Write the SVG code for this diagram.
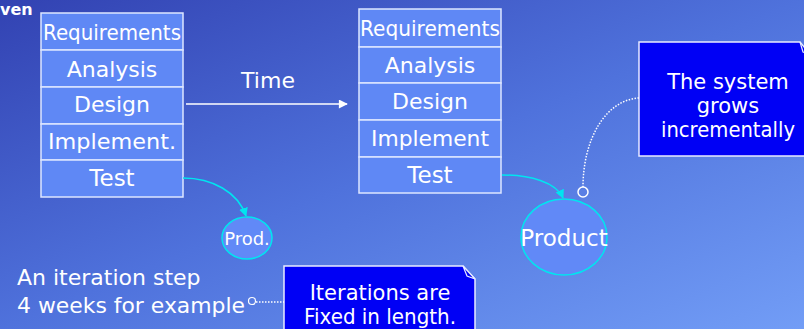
<svg xmlns="http://www.w3.org/2000/svg" width="804" height="329" viewBox="0 0 804 329">
<defs>
<linearGradient id="bg" x1="0" y1="0" x2="1" y2="1">
<stop offset="0" stop-color="#3242b2"/>
<stop offset="0.5" stop-color="#4f72dc"/>
<stop offset="1" stop-color="#729df6"/>
</linearGradient>
<marker id="aw" viewBox="0 0 10 10" refX="9" refY="5" markerWidth="10" markerHeight="9" orient="auto" markerUnits="userSpaceOnUse">
<path d="M0,0 L10,5 L0,10 z" fill="#ffffff"/>
</marker>
<marker id="ac" viewBox="0 0 10 10" refX="9" refY="5" markerWidth="9" markerHeight="9" orient="auto" markerUnits="userSpaceOnUse">
<path d="M0,0 L10,5 L0,10 z" fill="#00e5f0"/>
</marker>
<style>
.cell{fill:#5f88f5;stroke:#dde6ff;stroke-width:1.5}
.t{font-family:"DejaVu Sans","Liberation Sans",sans-serif;fill:#ffffff;font-size:22px;text-anchor:middle}
.tl{font-family:"DejaVu Sans","Liberation Sans",sans-serif;fill:#ffffff;font-size:22px}
.n{font-size:21px}
.note{fill:#0000f5;stroke:#e8ecff;stroke-width:1.5}
.dot{fill:none;stroke:#ffffff;stroke-width:1.5;stroke-dasharray:1.5 1.5}
.cy{fill:none;stroke:#00e5f0;stroke-width:1.5}
.prod{fill:#6189f7;stroke:#00e5f0;stroke-width:1.5}
</style>
</defs>
<rect x="0" y="0" width="804" height="329" fill="url(#bg)"/>
<text x="0" y="15" style="font-family:'DejaVu Sans',sans-serif;font-weight:bold;font-size:16px;fill:#ffffff">ven</text>

<g id="stack1">
<rect class="cell" x="41" y="13" width="142" height="37"/>
<rect class="cell" x="41" y="50" width="142" height="37"/>
<rect class="cell" x="41" y="87" width="142" height="37"/>
<rect class="cell" x="41" y="124" width="142" height="36"/>
<rect class="cell" x="41" y="160" width="142" height="37"/>
<text class="t" x="112" y="40" textLength="138" lengthAdjust="spacingAndGlyphs">Requirements</text>
<text class="t" x="112" y="77">Analysis</text>
<text class="t" x="112" y="112">Design</text>
<text class="t" x="112" y="149" textLength="128" lengthAdjust="spacingAndGlyphs">Implement.</text>
<text class="t" x="112" y="186" style="font-size:23px">Test</text>
</g>

<g id="stack2">
<rect class="cell" x="359" y="9" width="142" height="38"/>
<rect class="cell" x="359" y="47" width="142" height="36"/>
<rect class="cell" x="359" y="83" width="142" height="37"/>
<rect class="cell" x="359" y="120" width="142" height="37"/>
<rect class="cell" x="359" y="157" width="142" height="36"/>
<text class="t" x="430" y="36" textLength="140" lengthAdjust="spacingAndGlyphs">Requirements</text>
<text class="t" x="430" y="73">Analysis</text>
<text class="t" x="430" y="109">Design</text>
<text class="t" x="430" y="146" textLength="118" lengthAdjust="spacingAndGlyphs">Implement</text>
<text class="t" x="430" y="183" style="font-size:23px">Test</text>
</g>

<g id="prod">
<ellipse class="prod" cx="247" cy="238" rx="25" ry="21"/>
<text class="t" x="247" y="245" style="font-size:18px">Prod.</text>
</g>

<g id="product">
<ellipse class="prod" cx="564" cy="237" rx="43" ry="38"/>
<text class="t" x="564" y="246" style="font-size:23px">Product</text>
</g>

<g id="note1">
<path class="note" d="M639,42 L800,42 L810,54 L810,156 L639,156 Z"/>
<path d="M800,42 L803,52 L810,54" fill="none" stroke="#e8ecff" stroke-width="1.2"/>
<text class="t n" x="728" y="89">The system</text>
<text class="t n" x="728" y="113">grows</text>
<text class="t n" x="728" y="137" textLength="134" lengthAdjust="spacingAndGlyphs">incrementally</text>
</g>

<g id="note2">
<path class="note" d="M284,266 L463,266 L475,279 L475,335 L284,335 Z"/>
<path d="M463,266 L467,276 L475,279 Z" fill="#0000f5" stroke="#e8ecff" stroke-width="1.2"/>
<text class="t n" x="380" y="300">Iterations are</text>
<text class="t n" x="380" y="324" textLength="152" lengthAdjust="spacingAndGlyphs">Fixed in length.</text>
</g>

<g id="iterlabel">
<text class="tl" x="17" y="285">An iteration step</text>
<text class="tl" x="17" y="313" textLength="228" lengthAdjust="spacingAndGlyphs">4 weeks for example</text>
</g>

<g id="time">
<text class="t" x="268" y="88">Time</text>
</g>

<g id="connectors">
<line x1="186" y1="104" x2="347" y2="104" stroke="#ffffff" stroke-width="1.5" marker-end="url(#aw)"/>
<path class="cy" d="M183,178 C212,178 238,192 246,216" marker-end="url(#ac)"/>
<path class="cy" d="M502,175 C530,175 556,182 563,198" marker-end="url(#ac)"/>
<path class="dot" d="M639,98 C605,100 583,140 583,187"/>
<circle cx="583" cy="192" r="5" fill="none" stroke="#ffffff" stroke-width="1.5"/>
<line class="dot" x1="256" y1="302" x2="284" y2="302"/>
<circle cx="252" cy="301" r="3.5" fill="none" stroke="#ffffff" stroke-width="1.2"/>
</g>
</svg>
